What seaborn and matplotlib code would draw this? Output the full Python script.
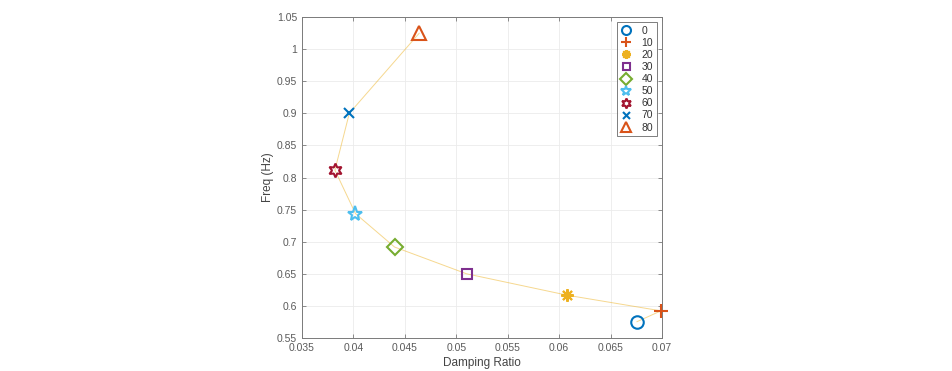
import numpy as np
import pandas as pd
import seaborn as sns
import matplotlib.pyplot as plt
from matplotlib.ticker import FormatStrFormatter, MultipleLocator

# data
labels = ["0", "10", "20", "30", "40", "50", "60", "70", "80"]
damping = [0.06755, 0.0699, 0.0608, 0.0510, 0.0440, 0.0402, 0.0382, 0.0396, 0.0464]
freq = [0.5753, 0.5923, 0.6166, 0.650, 0.6917, 0.7437, 0.8115, 0.900, 1.0248]

colors = ["#0072BD", "#D95319", "#EDB120", "#7E2F8E", "#77AC30",
          "#4DBEEE", "#A2142F", "#0072BD", "#D95319"]
markers = ["o", "+", (8, 2, 0), "s", "D", "*", (6, 1, 0), "x", "^"]
sizes = [9, 10, 9, 7, 8, 11, 10, 7, 10]

df = pd.DataFrame({"damping": damping, "freq": freq, "label": labels})

sns.set_style("whitegrid")
plt.rcParams["font.family"] = ["Liberation Sans", "DejaVu Sans"]

fig = plt.figure(figsize=(9.52, 3.71), dpi=100)
ax = fig.add_axes([302 / 952, 1 - 338 / 371, 360 / 952, 321 / 371])

sns.lineplot(data=df, x="damping", y="freq", sort=False, ax=ax,
             color="#EDB120", alpha=0.5, linewidth=0.7, legend=False)

for i, lab in enumerate(labels):
    ax.plot(damping[i], freq[i], linestyle="none", marker=markers[i],
            markersize=sizes[i], markerfacecolor="none",
            markeredgecolor=colors[i], markeredgewidth=1.5, label=lab,
            clip_on=False, zorder=5)

ax.set_xlim(0.035, 0.07)
ax.set_ylim(0.55, 1.05)
ax.xaxis.set_major_locator(MultipleLocator(0.005))
ax.yaxis.set_major_locator(MultipleLocator(0.05))
ax.xaxis.set_major_formatter(FormatStrFormatter("%g"))
ax.yaxis.set_major_formatter(FormatStrFormatter("%g"))

ax.grid(True, color="#ebebeb", linewidth=0.6)
for s in ax.spines.values():
    s.set_color("#7a7a7a")
    s.set_linewidth(0.7)
ax.tick_params(direction="in", length=3, width=0.6, color="#7a7a7a",
               labelsize=7.5, labelcolor="#5a5a5a",
               top=True, right=True, bottom=True, left=True)

ax.set_xlabel("Damping Ratio", fontsize=8.5, color="#444444", labelpad=3)
ax.set_ylabel("Freq (Hz)", fontsize=8.5, color="#444444", labelpad=2)

leg = ax.legend(loc="upper right", fontsize=7.5, markerscale=0.72,
                frameon=True, fancybox=False, edgecolor="#444444",
                borderaxespad=0.5, handlelength=1.1, handletextpad=0.9,
                labelspacing=0.2, borderpad=0.35)
leg.get_frame().set_linewidth(0.6)
leg.set_zorder(10)
for t in leg.get_texts():
    t.set_color("#333333")

fig.savefig("out.png", dpi=100)
